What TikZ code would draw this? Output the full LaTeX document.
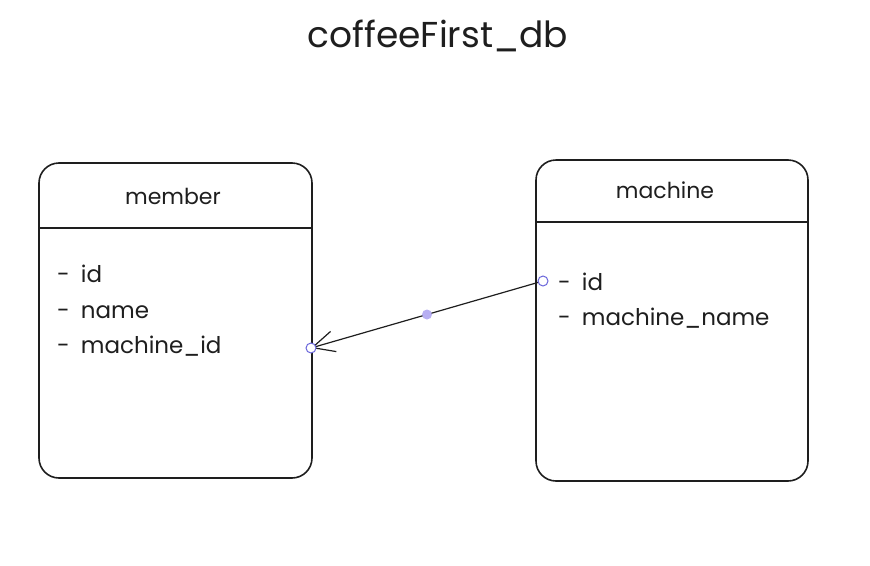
\documentclass[tikz,border=0pt]{standalone}
\usepackage{fontspec}
\setmainfont{Poppins}
\usetikzlibrary{arrows.meta,calc}

\definecolor{handle}{HTML}{6965DB}
\definecolor{midpt}{HTML}{B7AEF2}
\definecolor{ink}{HTML}{1E1E1E}

\tikzset{
  table/.style={draw=ink, line width=1.6pt, rounded corners=20pt, inner sep=0pt},
  tabletitle/.style={text=ink, font=\fontsize{22}{26}\selectfont},
  field/.style={anchor=west, inner sep=0pt, text=ink, font=\fontsize{23}{27}\selectfont},
  knob/.style={circle, draw=handle, fill=white, line width=1pt, minimum size=10pt, inner sep=0pt},
}
\newcommand{\fielddash}{-\hspace{11pt}}

\begin{document}
\begin{tikzpicture}[x=1pt, y=-1pt]
  \useasboundingbox (0,0) rectangle (870,565);

  \node[text=ink, font=\fontsize{36}{40}\selectfont] (title) at (438,36) {coffeeFirst\_db};

  % tables
  \node[table, minimum width=273pt, minimum height=315pt] (member) at (175.5,320.5) {};
  \node[table, minimum width=272pt, minimum height=321pt] (machine) at (672,320.5) {};
  \draw[draw=ink, line width=1.6pt] (member.west |- 0,228) -- (member.east |- 0,228);
  \draw[draw=ink, line width=1.6pt] (machine.west |- 0,222) -- (machine.east |- 0,222);

  \node[tabletitle] (membername) at (173,196) {member};
  \node[tabletitle] (machinename) at (665,190) {machine};

  % fields
  \foreach[count=\i] \txt/\y in {id/274, name/312, machine\_id/346}
    \node[field] (memberf\i) at (57,\y) {\fielddash\txt};
  \foreach[count=\i] \txt/\y in {id/282, machine\_name/318}
    \node[field] (machinef\i) at (558,\y) {\fielddash\txt};

  % relation
  \coordinate (from) at (543,281);
  \coordinate (to) at (311,348);
  \draw[draw=ink, line width=1.2pt, -{Straight Barb[length=22pt, width=21pt]}] (from) -- (to);
  \node[circle, fill=midpt, minimum size=10pt, inner sep=0pt] (mid) at ($(from)!0.5!(to)$) {};
  \node[knob] (fromknob) at (from) {};
  \node[knob] (toknob) at (to) {};
\end{tikzpicture}
\end{document}
